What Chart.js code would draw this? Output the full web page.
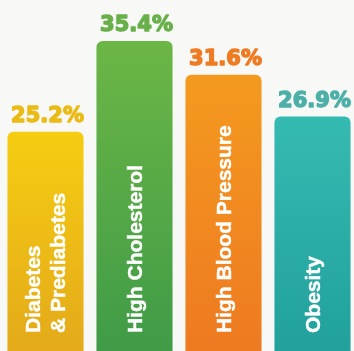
<!DOCTYPE html>
<html>
<head>
<meta charset="utf-8">
<script src="https://cdn.jsdelivr.net/npm/chart.js@4"></script>
<style>
  html, body { margin: 0; padding: 0; background: #f8f8f7; overflow: hidden; }
  #wrap { position: relative; width: 357px; height: 357px; }
</style>
</head>
<body>
<div id="wrap"><canvas id="chart"></canvas></div>
<script>
// data
const categories = [['Diabetes', '& Prediabetes'], ['High Cholesterol'], ['High Blood Pressure'], ['Obesity']];
const percentages = [25.2, 35.4, 31.6, 26.9];
const valueLabels = ['25.2%', '35.4%', '31.6%', '26.9%'];

// top / bottom colour of each bar, label colour
const topColors = ['#f6cd12', '#6cb646', '#f49a1f', '#35bab1'];
const bottomColors = ['#e3a91a', '#3f9b47', '#ee7921', '#21a09c'];
const labelColors = ['#ebbb16', '#68b04a', '#ef7b22', '#4db0a8'];

// 柱状渐变
function barGradient(context) {
  const chart = context.chart;
  const area = chart.chartArea;
  if (!area) return topColors[context.dataIndex];
  const y = chart.scales.y;
  const i = context.dataIndex;
  const g = chart.ctx.createLinearGradient(0, y.getPixelForValue(percentages[i]), 0, area.bottom);
  g.addColorStop(0, topColors[i]);
  g.addColorStop(1, bottomColors[i]);
  return g;
}

// 数值标签和柱内文字
const labelPlugin = {
  id: 'barLabels',
  afterDatasetsDraw(chart) {
    const ctx = chart.ctx;
    const bars = chart.getDatasetMeta(0).data;
    bars.forEach((bar, i) => {
      ctx.save();
      ctx.fillStyle = labelColors[i];
      ctx.strokeStyle = labelColors[i];
      ctx.lineWidth = 1.4;
      ctx.lineJoin = 'round';
      ctx.font = 'bold 21px "DejaVu Sans"';
      ctx.textAlign = 'center';
      ctx.textBaseline = 'alphabetic';
      ctx.fillText(valueLabels[i], bar.x + 2, bar.y - 10);
      ctx.strokeText(valueLabels[i], bar.x + 2, bar.y - 10);
      ctx.restore();

      const lines = categories[i];
      const lineGap = 25;
      ctx.save();
      ctx.translate(bar.x, 333);
      ctx.rotate(-Math.PI / 2);
      ctx.fillStyle = '#ffffff';
      ctx.strokeStyle = '#ffffff';
      ctx.lineWidth = 0.4;
      ctx.font = 'bold 21px "Liberation Sans"';
      ctx.textAlign = 'left';
      ctx.textBaseline = 'alphabetic';
      const first = -(lines.length - 1) * lineGap / 2;
      lines.forEach((line, k) => {
        ctx.fillText(line, 0, first + k * lineGap + 7);
        ctx.strokeText(line, 0, first + k * lineGap + 7);
      });
      ctx.restore();
    });
  }
};

new Chart(document.getElementById('chart'), {
  type: 'bar',
  data: {
    labels: categories.map(c => c.join(' ')),
    datasets: [{
      data: percentages,
      backgroundColor: barGradient,
      borderWidth: 0,
      borderRadius: { topLeft: 6, topRight: 6, bottomLeft: 0, bottomRight: 0 },
      borderSkipped: 'bottom',
      barPercentage: 0.855,
      categoryPercentage: 1
    }]
  },
  options: {
    responsive: true,
    maintainAspectRatio: false,
    animation: false,
    layout: { padding: { left: 1, right: 0, top: 0, bottom: 1 } },
    plugins: {
      legend: { display: false },
      tooltip: { enabled: false }
    },
    scales: {
      x: { display: false },
      y: { display: false, min: 0, max: 40 }
    }
  },
  plugins: [labelPlugin]
});
</script>
</body>
</html>
